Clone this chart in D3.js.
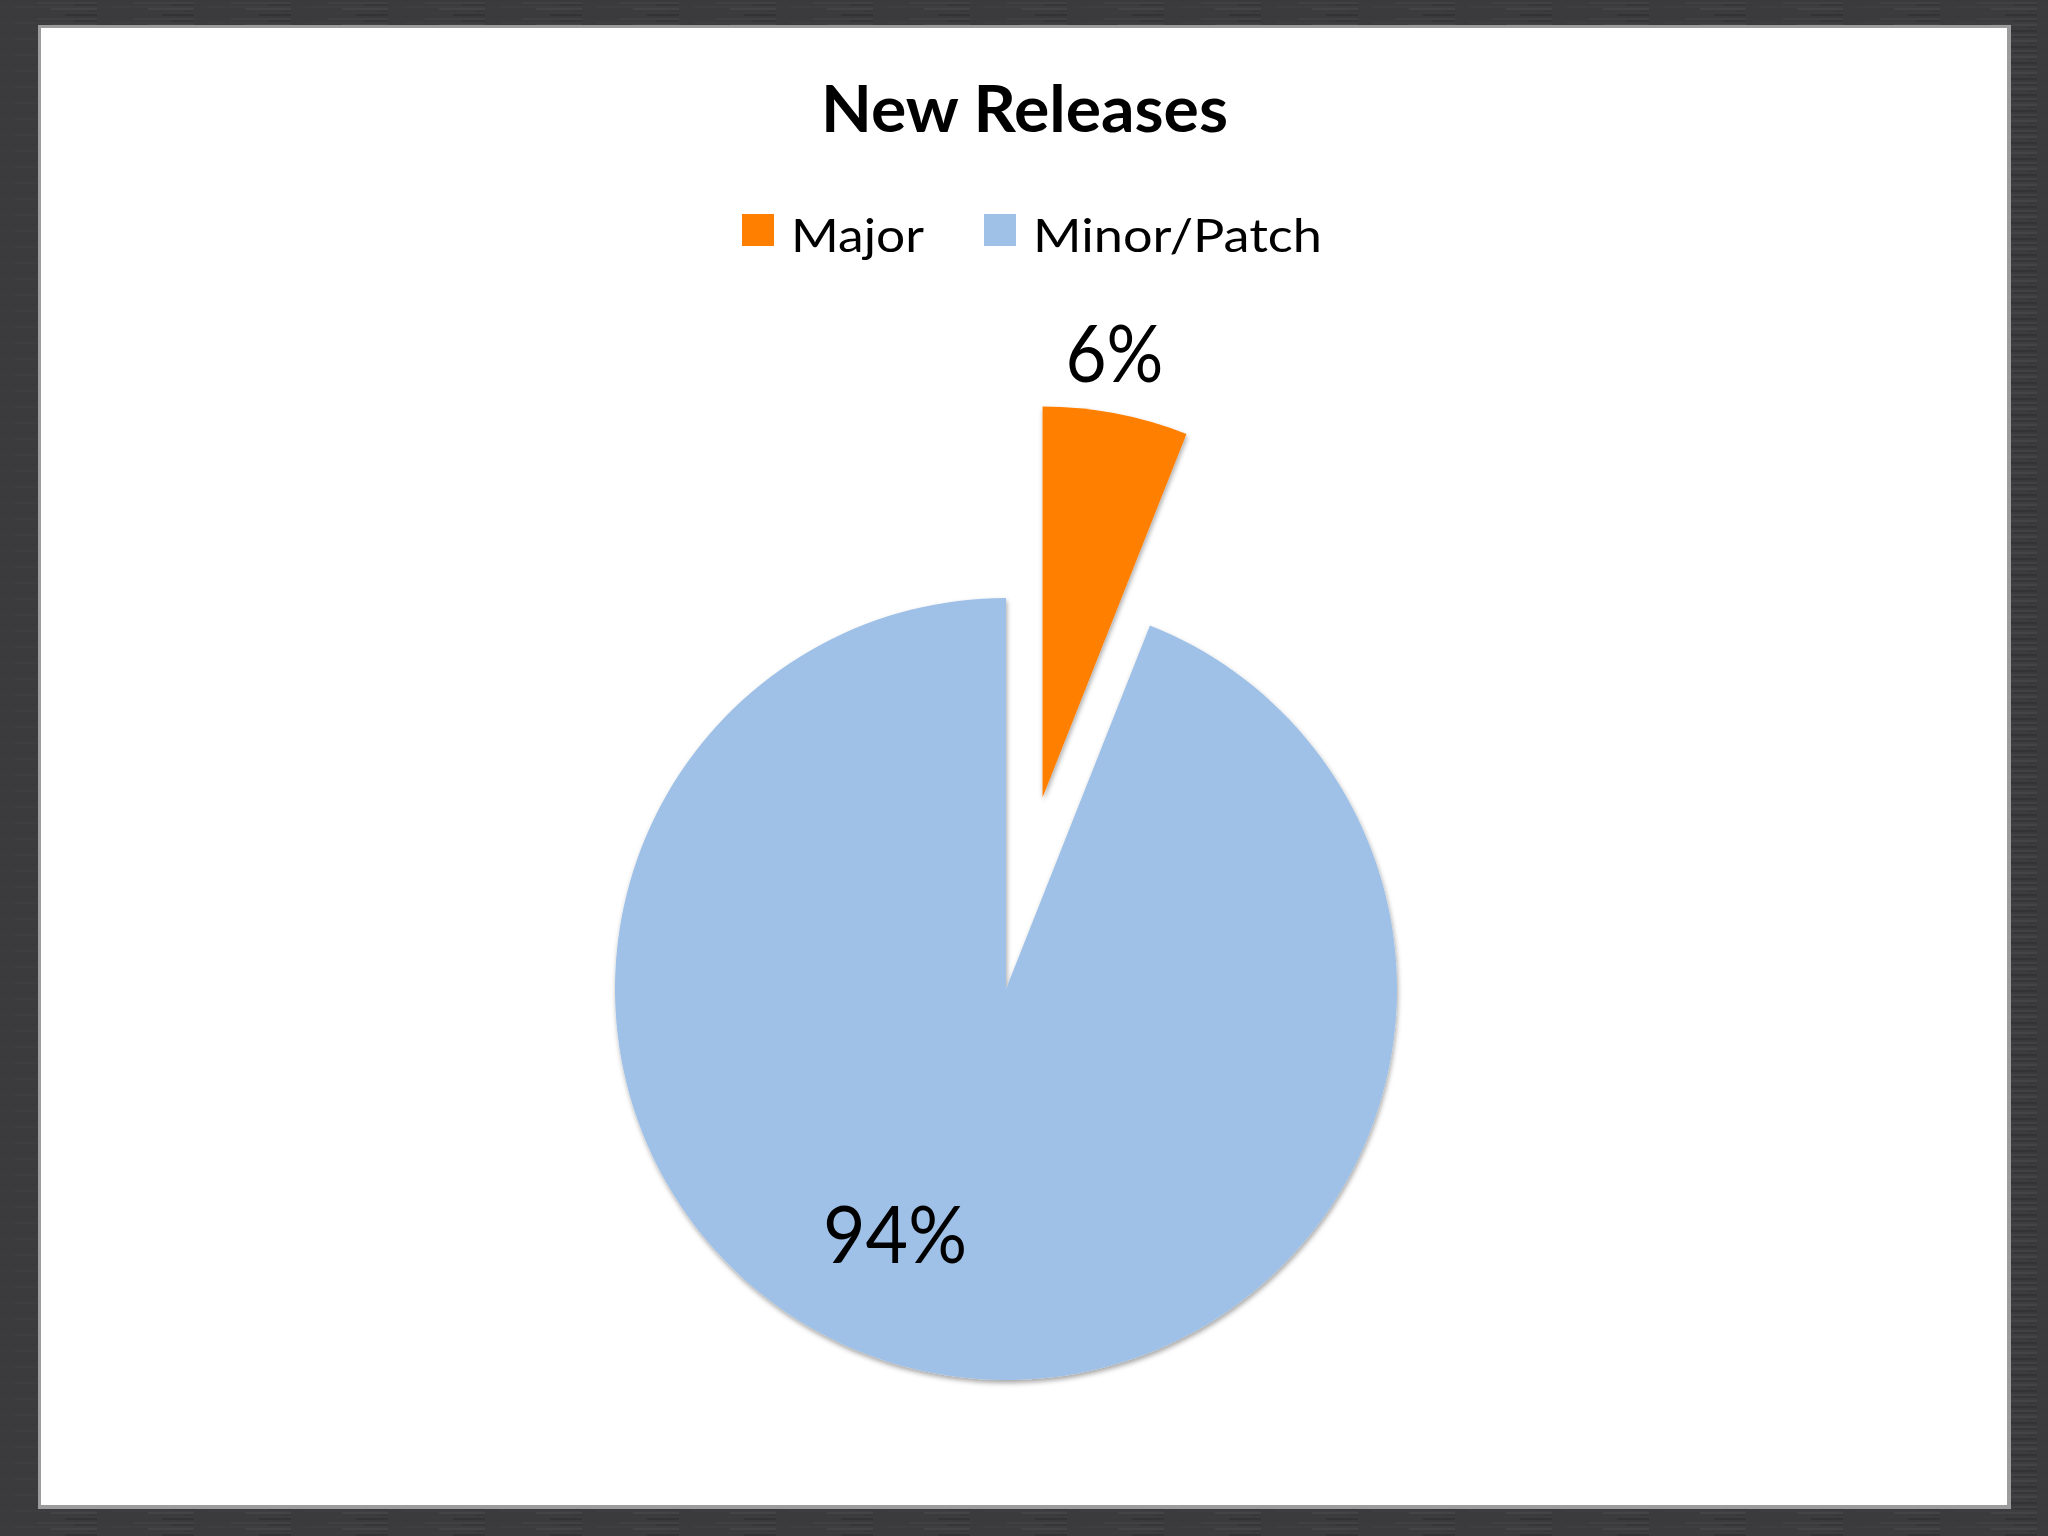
<!DOCTYPE html>
<html lang="en">
<head>
<meta charset="utf-8">
<title>New Releases</title>
<script src="https://cdn.jsdelivr.net/npm/d3@7/dist/d3.min.js"></script>
<style>
  html, body { margin: 0; padding: 0; background: #3b3b3d; }
  svg { display: block; }
  text { font-family: Lato, "Noto Sans", sans-serif; fill: #000; }
</style>
</head>
<body>
<script>
// chart data
var categories = ["Major", "Minor/Patch"];
var values = [6, 94];
var labels = ["6%", "94%"];
var colors = ["#ff7f00", "#9fc1e7"];
var title = "New Releases";

// page + layout
var W = 2048, H = 1536;
var cx = 1006, cy = 989, R = 391;
var explode = [195, 0];          // how far each slice is pulled out
var labelRadius = [1.15, 0.69];  // as a fraction of R
var labelTurn = [-1.6, 13.5];    // degrees away from slice mid-angle

var svg = d3.select("body").append("svg")
    .attr("width", W)
    .attr("height", H);

var defs = svg.append("defs");

// brushed dark frame
var shades = ["#3a3a3c", "#414143", "#363638", "#3e3e40", "#444446", "#38383a", "#3c3c3e", "#333335"];
var pat = defs.append("pattern")
    .attr("id", "brush")
    .attr("patternUnits", "userSpaceOnUse")
    .attr("width", 97).attr("height", 16);
shades.forEach(function(c, i) {
    pat.append("rect")
        .attr("x", (i * 37) % 97).attr("y", i * 2)
        .attr("width", 97).attr("height", 2)
        .attr("fill", c);
});

var shadow = defs.append("filter")
    .attr("id", "shadow")
    .attr("x", "-10%").attr("y", "-10%")
    .attr("width", "120%").attr("height", "120%");
shadow.append("feDropShadow")
    .attr("dx", 1).attr("dy", 3)
    .attr("stdDeviation", 2.5)
    .attr("flood-color", "#000")
    .attr("flood-opacity", 0.35);

svg.append("rect").attr("width", W).attr("height", H).attr("fill", "url(#brush)");
svg.append("rect")
    .attr("x", 38).attr("y", 25)
    .attr("width", 1973).attr("height", 1484)
    .attr("fill", "#9c9c9c");
svg.append("rect")
    .attr("x", 41).attr("y", 28)
    .attr("width", 1966).attr("height", 1477)
    .attr("fill", "#ffffff");

// title
svg.append("text")
    .attr("x", 1024.5).attr("y", 132)
    .attr("text-anchor", "middle")
    .style("font-size", "65px")
    .style("font-weight", "bold")
    .attr("textLength", 407)
    .attr("lengthAdjust", "spacingAndGlyphs")
    .text(title);

// legend
var legendWidths = [133, 289];
var lx = 742;
var legend = svg.append("g").attr("class", "legend");
categories.forEach(function(c, i) {
    legend.append("rect")
        .attr("x", lx).attr("y", 214)
        .attr("width", 32).attr("height", 32)
        .attr("fill", colors[i]);
    legend.append("text")
        .attr("x", lx + 49).attr("y", 252)
        .style("font-size", "47px")
        .attr("textLength", legendWidths[i])
        .attr("lengthAdjust", "spacingAndGlyphs")
        .text(c);
    lx += 49 + legendWidths[i] + 60;
});

// pie
var pie = d3.pie().sort(null).value(function(d) { return d; });
var arcs = pie(values);
var arc = d3.arc().innerRadius(0).outerRadius(R);

var g = svg.append("g").attr("transform", "translate(" + cx + "," + cy + ")");

function offset(a, d) {
    return [Math.sin(a) * d, -Math.cos(a) * d];
}

g.selectAll("path.slice")
    .data(arcs)
    .enter().append("path")
    .attr("class", "slice")
    .attr("d", arc)
    .attr("fill", function(d, i) { return colors[i]; })
    .attr("filter", "url(#shadow)")
    .attr("transform", function(d, i) {
        var m = (d.startAngle + d.endAngle) / 2;
        var o = offset(m, explode[i]);
        return "translate(" + o[0] + "," + o[1] + ")";
    });

// data labels
g.selectAll("text.label")
    .data(arcs)
    .enter().append("text")
    .attr("class", "label")
    .attr("text-anchor", "middle")
    .attr("dy", "0.36em")
    .style("font-size", "79px")
    .attr("textLength", function(d, i) { return i === 0 ? 98 : 144; })
    .attr("lengthAdjust", "spacingAndGlyphs")
    .attr("x", function(d, i) {
        var m = (d.startAngle + d.endAngle) / 2;
        var e = offset(m, explode[i]);
        var p = offset(m + labelTurn[i] * Math.PI / 180, labelRadius[i] * R);
        return e[0] + p[0];
    })
    .attr("y", function(d, i) {
        var m = (d.startAngle + d.endAngle) / 2;
        var e = offset(m, explode[i]);
        var p = offset(m + labelTurn[i] * Math.PI / 180, labelRadius[i] * R);
        return e[1] + p[1];
    })
    .text(function(d, i) { return labels[i]; });
</script>
</body>
</html>
